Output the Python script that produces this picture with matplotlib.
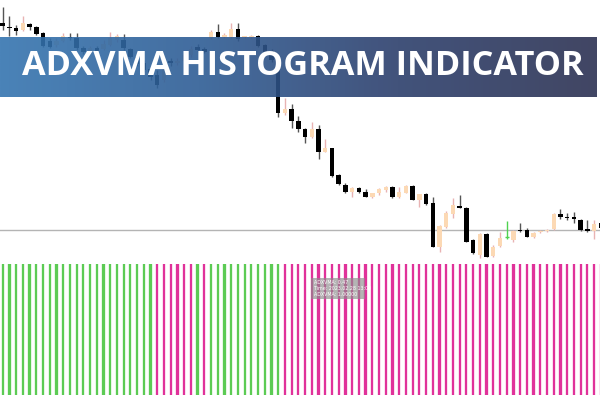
import matplotlib
matplotlib.use("Agg")
import matplotlib.pyplot as plt
import numpy as np
from matplotlib.colors import LinearSegmentedColormap

# ---- candle data (price units) ----
opens = [277.3, 273.3, 271.7, 270, 276, 272.7, 266.7, 259.3, 255, 259, 263.3, 262, 252, 249, 251.7,
         251, 255, 260, 260, 251, 243, 237, 231, 225, 220, 239, 237.5, 239, 245, 253.3,
         251, 261.7, 267.7, 262.7, 262.7, 270.7, 263, 262.7, 264, 255, 249, 240, 186.7, 191, 179.3,
         170.7, 163.3, 170.7, 148.3, 151.7, 125, 115, 108.3, 111.7, 108.3, 102.7, 106.7, 110, 113.3, 102.7,
         107.3, 114, 100, 106, 96.7, 53.3, 72.7, 86, 94, 91.7, 60, 45, 66, 44, 54,
         62.7, 60, 70, 70, 62.7, 68, 69, 70.7, 86, 83.3, 83.3, 80, 70.7, 69.3, 77]
highs = [293.3, 284, 275, 284, 277, 274, 268, 262, 262, 267, 267, 267, 254, 254, 254,
         260, 268, 266, 266, 252, 245, 240, 234, 230, 236, 242, 242, 248, 254, 256,
         253, 270, 275.7, 267, 276.7, 276.7, 264.5, 265, 265, 256, 251, 242, 202, 196, 184,
         171.7, 178.3, 175, 160.7, 152.3, 126, 117.3, 112.7, 112.7, 110.7, 107.3, 111.7, 114, 114, 113.3,
         115, 115, 106, 107, 103.3, 75, 89, 102, 105, 93, 61, 67, 67, 55, 68.3,
         79.3, 70, 77, 71.7, 68, 70, 71, 87, 91, 87.3, 88.3, 81, 80, 80, 80]
lows = [270, 264, 265, 269.3, 270, 265, 253, 252, 253, 258, 260, 250, 246, 248, 248,
        250, 254, 258, 250, 242, 234, 228, 220, 212, 218, 234, 235, 237, 243, 248,
        247, 261, 261.7, 262, 261.7, 259.3, 262, 262, 253, 247, 238, 183, 185, 171.7, 168.3,
        157.3, 161.7, 140.7, 147.7, 123.3, 115, 106.7, 102.7, 106.7, 102.7, 102, 105, 108.3, 101.7, 101.7,
        106.7, 100, 93, 95.5, 53.3, 48.3, 72, 82, 91.7, 58, 46, 42, 43, 43.5, 53.3,
        60.7, 58.3, 68.3, 62.7, 62, 67.3, 68, 70, 81, 80, 76.7, 69.5, 68.5, 60.7, 70]
closes = [274, 271.7, 269.3, 276.7, 272.7, 266, 254, 253.3, 259, 264, 261.7, 252, 248, 252, 249.3,
          256, 262, 264, 252, 243, 236, 230, 223, 215, 232, 237.5, 239, 245, 251, 250,
          248, 267.7, 262.7, 265, 270.7, 260.7, 264, 264, 254, 248.3, 240, 186.7, 190.7, 179.3, 170.7,
          162.7, 170.7, 148.3, 151.7, 124, 116, 108.3, 111.7, 108.3, 103.3, 106.7, 110.7, 113.3, 102.7, 108.3,
          114, 100, 106, 96, 53.3, 74, 87.3, 95, 91.7, 58.3, 46.7, 66, 43.3, 53.3, 61.7,
          62.7, 69.3, 69, 63.3, 67.3, 69.3, 70, 86, 82.7, 81.7, 80.7, 70, 69, 76, 72]
level_line = 70

# ---- histogram data ----
hist_values = [1.0] * 90
hist_signal = ["up"] * 23 + ["down"] * 6 + ["up"] + ["down"] + ["up"] * 11 + ["down"] * 48

title_text = "ADXVMA HISTOGRAM INDICATOR"
tooltip_lines = ["ADXVMA: 0.47", "Time: 2023.02.28 13:00", "ADXVMA: 1.00000"]

BEAR = "#000000"
BULL = "#fcd9b4"
BULL_WICK = "#e9b3b3"
BEAR_WICK = "#555555"
DOJI = "#4fd24f"
UP = "#5ccb54"
DOWN = "#e0329a"

fig = plt.figure(figsize=(6, 4), dpi=100)
fig.patch.set_facecolor("white")

# x mapping: first candle at 2.7px, spacing 6.72px
sp = 6.72
x0 = -2.7 / sp
x1 = (600 - 2.7) / sp

ax = fig.add_axes([0, 140 / 400, 1, 260 / 400])
ax.set_xlim(x0, x1)
ax.set_ylim(40, 300)
ax.axis("off")
ax.axhline(level_line, color="#b4b4b4", lw=1.0, zorder=1)

xs = np.arange(len(opens))
for i in xs:
    o, h, l, c = opens[i], highs[i], lows[i], closes[i]
    if c > o:
        bc, wc = BULL, BULL_WICK
    elif c < o:
        bc, wc = BEAR, BEAR_WICK
    else:
        bc, wc = DOJI, DOJI
    ax.vlines(i, l, h, color=wc, lw=1.0, zorder=2)
    if c == o:
        ax.hlines(o, i - 0.3, i + 0.3, color=bc, lw=1.0, zorder=3)
    else:
        ax.bar(i, abs(c - o), bottom=min(o, c), width=0.66, color=bc, zorder=3, linewidth=0)

# histogram panel
hx = fig.add_axes([0, 5 / 400, 1, 131 / 400])
hx.set_xlim(x0, x1)
hx.set_ylim(0, 1)
hx.axis("off")
hxs = np.arange(len(hist_values))
cols = [UP if s == "up" else DOWN for s in hist_signal]
hx.bar(hxs, hist_values, width=0.62, color=cols, alpha=0.15, linewidth=0)
hx.bar(hxs, hist_values, width=0.33, color=cols, linewidth=0)

# tooltip
tip = fig.add_axes([311 / 600, 1 - 298.5 / 400, 54 / 600, 20.5 / 400])
tip.set_facecolor("#8c8c8c")
tip.patch.set_alpha(0.65)
tip.set_xticks([]); tip.set_yticks([])
for s in tip.spines.values():
    s.set_visible(False)
for k, t in enumerate(tooltip_lines):
    tip.text(0.06, 0.8 - k * 0.3, t, transform=tip.transAxes, fontsize=3.4,
             color="white", va="center", ha="left", family="DejaVu Sans")

# banner
bn = fig.add_axes([0, 1 - 97 / 400, 597 / 600, 60 / 400])
cmap = LinearSegmentedColormap.from_list("bn", ["#3575b0", "#2f5d95", "#2c3f6c", "#2b3152"])
grad = np.linspace(0, 1, 256).reshape(1, -1)
bn.imshow(grad, aspect="auto", cmap=cmap, alpha=0.9, extent=[0, 1, 0, 1])
bn.set_xlim(0, 1); bn.set_ylim(0, 1)
bn.axis("off")

txt = fig.text(303 / 600, 1 - 75 / 400, title_text, color="white", fontsize=24,
               fontweight="bold", family="Open Sans", ha="center", va="baseline")
fig.canvas.draw()
w = txt.get_window_extent().width
txt.set_fontsize(24 * 563 / w)

fig.savefig("out.png", dpi=100)
